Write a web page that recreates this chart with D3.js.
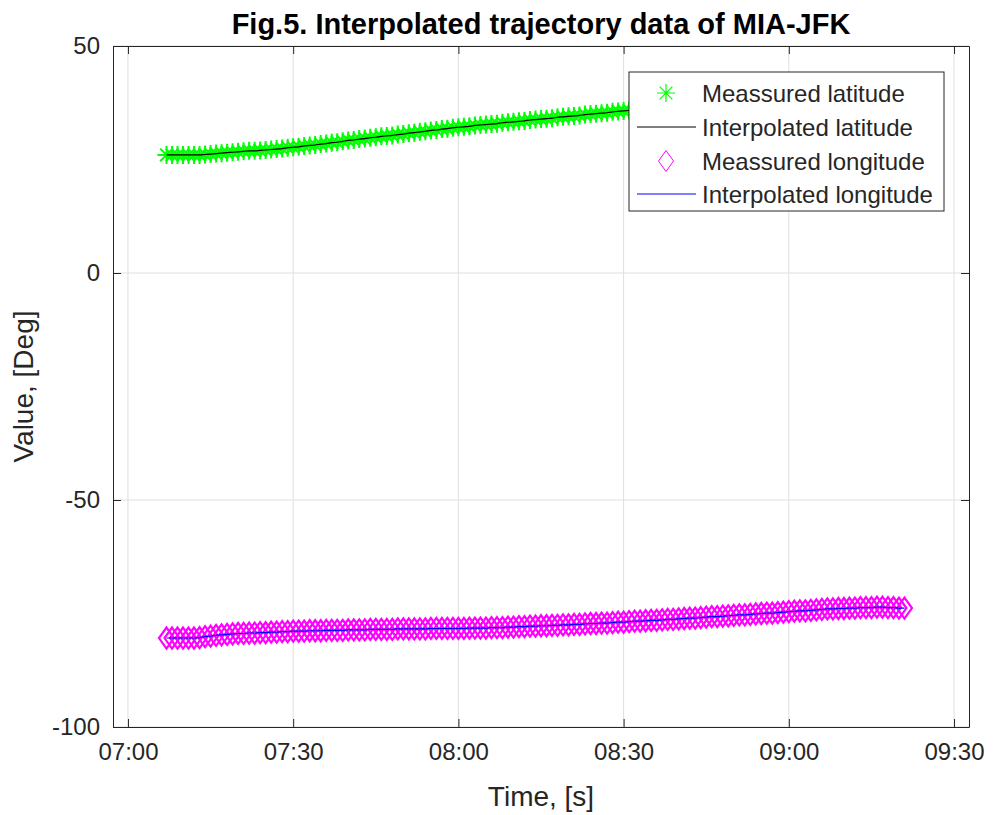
<!DOCTYPE html>
<html>
<head>
<meta charset="utf-8">
<script src="https://cdn.jsdelivr.net/npm/d3@7"></script>
<style>
  body { margin: 0; background: #fff; }
  svg { display: block; font-family: "Liberation Sans", Arial, Helvetica, sans-serif; }
</style>
</head>
<body>
<div id="chart-area"></div>
<script>
/*
*    Fig.5 - interpolated trajectory MIA-JFK
*/

// samples every minute, 07:07 .. 09:21
var startTime = "07:07";
var endTime = "09:21";

var latitude = [
    26.0, 26.0, 26.0, 26.0, 26.0, 26.0,
    26.0, 26.1, 26.2, 26.3, 26.4, 26.5, 26.6, 26.7,
    26.8, 26.9, 26.9, 27.0, 27.1,
    27.2, 27.3, 27.4, 27.6, 27.7,
    27.8, 28.0, 28.1, 28.2, 28.4,
    28.5, 28.7, 28.8, 29.0, 29.2,
    29.3, 29.5, 29.6, 29.8, 29.9,
    30.1, 30.2, 30.3, 30.5, 30.6,
    30.8, 30.9, 31.1, 31.2, 31.4,
    31.5, 31.7, 31.8, 32.0, 32.1,
    32.2, 32.3, 32.5, 32.6, 32.7,
    32.8, 32.9, 33.1, 33.2, 33.3,
    33.4, 33.5, 33.7, 33.8, 33.9,
    34.0, 34.1, 34.3, 34.4, 34.5,
    34.6, 34.7, 34.9, 35.0, 35.1,
    35.2, 35.3, 35.5, 35.6, 35.7,
    35.8, 35.9, 36.0, 36.1, 36.2,
    36.3, 36.4, 36.6, 36.7, 36.8,
    36.9, 37.0, 37.1, 37.2, 37.3,
    37.4, 37.5, 37.7, 37.8, 37.9,
    38.0, 38.1, 38.2, 38.3, 38.4,
    38.5, 38.6, 38.7, 38.8, 38.9,
    39.0, 39.1, 39.2, 39.3, 39.4,
    39.5, 39.6, 39.6, 39.7, 39.8,
    39.9, 40.0, 40.0, 40.1, 40.2,
    40.3, 40.3, 40.4, 40.5, 40.5, 40.6
];

var longitude = [
    -80.4, -80.4, -80.4, -80.4, -80.4, -80.4,
    -80.3, -80.1, -80.0, -79.8, -79.7, -79.6, -79.5, -79.4, -79.4,
    -79.3, -79.3, -79.2, -79.2, -79.1, -79.1, -79.0, -79.0, -78.9,
    -78.9, -78.9, -78.8, -78.8, -78.8,
    -78.7, -78.7, -78.7, -78.7, -78.6,
    -78.6, -78.6, -78.6, -78.5, -78.5,
    -78.5, -78.5, -78.5, -78.4, -78.4,
    -78.4, -78.4, -78.4, -78.4, -78.3,
    -78.3, -78.3, -78.3, -78.3, -78.3,
    -78.3, -78.2, -78.2, -78.2, -78.2,
    -78.1, -78.1, -78.1, -78.0, -78.0,
    -77.9, -77.9, -77.8, -77.8, -77.7,
    -77.7, -77.6, -77.6, -77.5, -77.5,
    -77.4, -77.4, -77.3, -77.2, -77.2,
    -77.1, -77.1, -77.0, -76.9, -76.9,
    -76.8, -76.7, -76.7, -76.6, -76.5,
    -76.5, -76.4, -76.3, -76.3, -76.2,
    -76.1, -76.0, -76.0, -75.9, -75.8,
    -75.7, -75.7, -75.6, -75.5, -75.4,
    -75.3, -75.3, -75.2, -75.1, -75.0,
    -74.9, -74.9, -74.8, -74.7, -74.6,
    -74.5, -74.4, -74.4, -74.3, -74.2,
    -74.1, -74.0, -74.0, -73.9, -73.9,
    -73.8, -73.8, -73.7, -73.7, -73.7,
    -73.6, -73.6, -73.7, -73.7, -73.8, -73.8
];

var xTicks = ["07:00", "07:30", "08:00", "08:30", "09:00", "09:30"];
var yTicks = [50, 0, -50, -100];
var legendLabels = ["Meassured latitude", "Interpolated latitude", "Meassured longitude", "Interpolated longitude"];

var width = 994, height = 815;
var margin = {top: 46, right: 25, bottom: 88, left: 113};
var axisColor = "#262626";

var parseTime = d3.timeParse("%H:%M");
var t0 = parseTime(startTime);
var times = latitude.map((d, i) => d3.timeMinute.offset(t0, i));

var latData = latitude.map((v, i) => ({t: times[i], v: v}));
var lonData = longitude.map((v, i) => ({t: times[i], v: v}));

var svg = d3.select("#chart-area")
    .append("svg")
    .attr("width", width)
    .attr("height", height);

// x limits sit a bit outside the data, like matlab's padding
var x = d3.scaleTime()
    .domain([d3.timeSecond.offset(parseTime("07:00"), -163), d3.timeSecond.offset(parseTime("09:30"), 163)])
    .range([margin.left, width - margin.right]);

var y = d3.scaleLinear()
    .domain([-100, 50])
    .range([height - margin.bottom, margin.top]);

var tickDates = xTicks.map(parseTime);

// grid
svg.append("g")
    .selectAll("line.vgrid").data(tickDates).enter()
    .append("line")
        .attr("x1", (d) => x(d)).attr("x2", (d) => x(d))
        .attr("y1", margin.top).attr("y2", height - margin.bottom)
        .attr("stroke", "#dfdfdf");
svg.append("g")
    .selectAll("line.hgrid").data(yTicks).enter()
    .append("line")
        .attr("x1", margin.left).attr("x2", width - margin.right)
        .attr("y1", (d) => y(d)).attr("y2", (d) => y(d))
        .attr("stroke", "#dfdfdf");

// axes, ticks pointing inward on all four sides
var xAxis = d3.axisBottom(x).tickValues(tickDates).tickFormat(d3.timeFormat("%H:%M")).tickSizeInner(-8).tickSizeOuter(0).tickPadding(16);
var xAxisTop = d3.axisTop(x).tickValues(tickDates).tickFormat("").tickSizeInner(-8).tickSizeOuter(0);
var yAxis = d3.axisLeft(y).tickValues(yTicks).tickFormat((d) => String(d)).tickSizeInner(-8).tickSizeOuter(0).tickPadding(13);
var yAxisRight = d3.axisRight(y).tickValues(yTicks).tickFormat("").tickSizeInner(-8).tickSizeOuter(0);

function styleAxis(g) {
    g.select(".domain").attr("stroke", axisColor);
    g.selectAll(".tick line").attr("stroke", axisColor);
    g.selectAll(".tick text").attr("fill", axisColor).style("font-size", "24px")
        .style("font-family", "'Liberation Sans', Arial, sans-serif");
}

svg.append("g").attr("transform", `translate(0,${height - margin.bottom})`).call(xAxis).call(styleAxis);
svg.append("g").attr("transform", `translate(0,${margin.top})`).call(xAxisTop).call(styleAxis);
svg.append("g").attr("transform", `translate(${margin.left},0)`).call(yAxis).call(styleAxis);
svg.append("g").attr("transform", `translate(${width - margin.right},0)`).call(yAxisRight).call(styleAxis);

// star marker like matlab '*'
function starPath(r) {
    var p = "";
    [0, 45, 90, 135].forEach((a) => {
        var rad = a * Math.PI / 180;
        var dx = Math.sin(rad) * r, dy = Math.cos(rad) * r;
        p += `M${-dx},${-dy}L${dx},${dy}`;
    });
    return p;
}
function diamondPath(w, h) {
    return `M0,${-h / 2}L${w / 2},0L0,${h / 2}L${-w / 2},0Z`;
}

var plot = svg.append("g");

// latitude measured
plot.selectAll("path.star").data(latData).enter()
    .append("path")
        .attr("d", starPath(9))
        .attr("transform", (d) => `translate(${x(d.t)},${y(d.v)})`)
        .attr("stroke", "#00ff00")
        .attr("stroke-width", 2)
        .attr("fill", "none");

var line = d3.line()
    .x((d) => x(d.t))
    .y((d) => y(d.v))
    .curve(d3.curveMonotoneX);

plot.append("path")
    .datum(latData)
    .attr("d", line)
    .attr("stroke", "#000")
    .attr("stroke-width", 1.2)
    .attr("fill", "none");

// longitude measured
plot.selectAll("path.diamond").data(lonData).enter()
    .append("path")
        .attr("d", diamondPath(15, 21))
        .attr("transform", (d) => `translate(${x(d.t)},${y(d.v)})`)
        .attr("stroke", "#ff00ff")
        .attr("stroke-width", 2.2)
        .attr("fill", "none");

plot.append("path")
    .datum(lonData)
    .attr("d", line)
    .attr("stroke", "#0000ff")
    .attr("stroke-width", 1.2)
    .attr("fill", "none");

// legend
var legend = svg.append("g").attr("transform", "translate(629,72)");
legend.append("rect")
    .attr("width", 315).attr("height", 139)
    .attr("fill", "#fff")
    .attr("stroke", axisColor);

var rowY = [21, 55, 89, 122];
legendLabels.forEach((label, i) => {
    var row = legend.append("g").attr("transform", `translate(0,${rowY[i]})`);
    if (i == 0) {
        row.append("path").attr("d", starPath(9)).attr("transform", "translate(37,0)")
            .attr("stroke", "#00ff00").attr("stroke-width", 1.2);
    } else if (i == 2) {
        row.append("path").attr("d", diamondPath(15, 21)).attr("transform", "translate(37,0)")
            .attr("stroke", "#ff00ff").attr("fill", "none");
    } else {
        row.append("line").attr("x1", 8).attr("x2", 67)
            .attr("stroke", i == 1 ? "#000" : "#0000ff").attr("stroke-width", 1.2);
    }
    row.append("text")
        .attr("x", 73).attr("y", 8.5)
        .attr("fill", axisColor)
        .style("font-size", "24px")
        .text(label);
});

// labels
svg.append("text")
    .attr("x", (margin.left + width - margin.right) / 2)
    .attr("y", 34)
    .attr("text-anchor", "middle")
    .attr("fill", "#000")
    .style("font-size", "29px")
    .style("font-weight", "bold")
    .text("Fig.5. Interpolated trajectory data of MIA-JFK");

svg.append("text")
    .attr("x", (margin.left + width - margin.right) / 2)
    .attr("y", 806)
    .attr("text-anchor", "middle")
    .attr("fill", axisColor)
    .style("font-size", "28px")
    .text("Time, [s]");

svg.append("text")
    .attr("transform", `translate(33,${(margin.top + height - margin.bottom) / 2}) rotate(-90)`)
    .attr("text-anchor", "middle")
    .attr("fill", axisColor)
    .style("font-size", "28px")
    .text("Value, [Deg]");
</script>
</body>
</html>
